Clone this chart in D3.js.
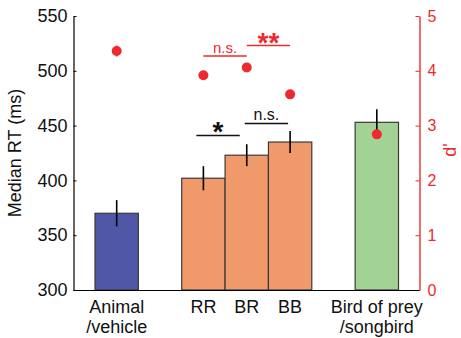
<!DOCTYPE html>
<html>
<head>
<meta charset="utf-8">
<script src="https://cdn.jsdelivr.net/npm/d3@7"></script>
<style>
  body { margin: 0; background: #fff; }
  text { font-family: "Liberation Sans", Arial, sans-serif; }
</style>
</head>
<body>
<div id="container"></div>
<script>
let w = 461;
let h = 338;

// data
let slots = ["Animal", "gap1", "RR", "BR", "BB", "gap2", "Bird"];
let categories = ["Animal", "RR", "BR", "BB", "Bird"];
let rtValues = [370, 402, 423, 435, 453];
let rtErrors = [12, 11, 10, 10, 12];
let dprime = [4.36, 3.92, 4.06, 3.57, 2.84];
let dprimeErr = [0.1, 0.06, 0.06, 0.06, 0.08];
let barColors = ["#5057a7", "#f0996b", "#f0996b", "#f0996b", "#a2d394"];
let xLabels = [["Animal", "/vehicle"], ["RR"], ["BR"], ["BB"], ["Bird of prey", "/songbird"]];
let leftTicks = [300, 350, 400, 450, 500, 550];
let rightTicks = [0, 1, 2, 3, 4, 5];

// significance brackets: [from, to, label, axis, level]
let sigs = [
  ["RR", "BR", "*", "left", 441],
  ["BR", "BB", "n.s.", "left", 452],
  ["RR", "BR", "n.s.", "right", 4.27],
  ["BR", "BB", "**", "right", 4.46]
];

let red = "#ee2a2e";

let viz = d3.select("#container").append("svg")
    .attr("width", w)
    .attr("height", h)
    .style("display", "block");

let axisLeftX = 73.5;
let axisRightX = 419.5;
let plotTop = 16;
let plotBottom = 290;

let xScale = d3.scaleBand().domain(slots).range([95, 398.5]).padding(0);
let yLeft = d3.scaleLinear().domain([300, 550]).range([plotBottom, plotTop]);
let yRight = d3.scaleLinear().domain([0, 5]).range([plotBottom, plotTop]);

let cx = c => xScale(c) + xScale.bandwidth() / 2;

// bars
viz.append("g").selectAll("rect").data(categories).enter()
  .append("rect")
    .attr("x", d => xScale(d))
    .attr("y", (d, i) => yLeft(rtValues[i]))
    .attr("width", xScale.bandwidth())
    .attr("height", (d, i) => plotBottom - yLeft(rtValues[i]))
    .attr("fill", (d, i) => barColors[i])
    .attr("stroke", "#3a3a3a")
    .attr("stroke-width", 1.2);

// RT error bars
viz.append("g").selectAll("line").data(categories).enter()
  .append("line")
    .attr("x1", d => cx(d)).attr("x2", d => cx(d))
    .attr("y1", (d, i) => yLeft(rtValues[i] - rtErrors[i]))
    .attr("y2", (d, i) => yLeft(rtValues[i] + rtErrors[i]))
    .attr("stroke", "#000")
    .attr("stroke-width", 1.6);

// d' error bars and dots
viz.append("g").selectAll("line").data(categories).enter()
  .append("line")
    .attr("x1", d => cx(d)).attr("x2", d => cx(d))
    .attr("y1", (d, i) => yRight(dprime[i] - dprimeErr[i]))
    .attr("y2", (d, i) => yRight(dprime[i] + dprimeErr[i]))
    .attr("stroke", red)
    .attr("stroke-width", 1.6);

viz.append("g").selectAll("circle").data(categories).enter()
  .append("circle")
    .attr("cx", d => cx(d))
    .attr("cy", (d, i) => yRight(dprime[i]))
    .attr("r", 5)
    .attr("fill", red);

// left axis
let leftAxis = d3.axisLeft(yLeft).tickValues(leftTicks).tickSizeInner(-3).tickSizeOuter(0).tickPadding(6);
let leftG = viz.append("g").attr("transform", "translate(" + axisLeftX + ",0)").call(leftAxis);
leftG.select(".domain").attr("stroke", "#000").attr("stroke-width", 1.2);
leftG.selectAll("line").attr("stroke", "#000");
leftG.selectAll("text")
    .attr("font-size", 18)
    .attr("font-family", "Liberation Sans, Arial, sans-serif")
    .attr("fill", "#111");

// right axis
let rightAxis = d3.axisRight(yRight).tickValues(rightTicks).tickFormat(d3.format("d"))
    .tickSizeInner(-4).tickSizeOuter(0).tickPadding(8);
let rightG = viz.append("g").attr("transform", "translate(" + axisRightX + ",0)").call(rightAxis);
rightG.select(".domain").attr("stroke", red).attr("stroke-width", 1.4);
rightG.selectAll("line").attr("stroke", red);
rightG.selectAll("text")
    .attr("font-size", 16)
    .attr("font-family", "Liberation Sans, Arial, sans-serif")
    .attr("fill", red);

// bottom line
viz.append("line")
    .attr("x1", axisLeftX).attr("x2", axisRightX)
    .attr("y1", plotBottom + 0.5).attr("y2", plotBottom + 0.5)
    .attr("stroke", "#000")
    .attr("stroke-width", 1.2);

// x labels
let xl = viz.append("g").selectAll("text").data(categories).enter()
  .append("text")
    .attr("text-anchor", "middle")
    .attr("font-size", 18)
    .attr("fill", "#111")
    .attr("x", d => cx(d))
    .attr("y", 313);
xl.selectAll("tspan").data((d, i) => xLabels[i]).enter()
  .append("tspan")
    .attr("x", function(){ return d3.select(this.parentNode).attr("x"); })
    .attr("dy", (d, i) => i === 0 ? 0 : 20)
    .text(d => d);

// axis titles
viz.append("text")
    .attr("transform", "translate(21," + ((plotTop + plotBottom) / 2) + ") rotate(-90)")
    .attr("text-anchor", "middle")
    .attr("font-size", 18)
    .attr("fill", "#111")
    .text("Median RT (ms)");

viz.append("text")
    .attr("transform", "translate(456," + 150 + ") rotate(-90)")
    .attr("text-anchor", "middle")
    .attr("font-size", 18)
    .attr("fill", red)
    .text("d'");

// significance brackets
let sigG = viz.append("g");
sigs.forEach(function(s){
  let scale = s[3] === "left" ? yLeft : yRight;
  let col = s[3] === "left" ? "#111" : red;
  let shift = s[2] === "*" ? -7 : (s[3] === "left" ? -2 : 0);
  let x1 = cx(s[0]) + shift;
  let x2 = cx(s[1]) + shift;
  let y = scale(s[4]);
  sigG.append("line")
      .attr("x1", x1).attr("x2", x2)
      .attr("y1", y).attr("y2", y)
      .attr("stroke", col)
      .attr("stroke-width", 1.5);
  let isStar = s[2].indexOf("*") >= 0;
  sigG.append("text")
      .attr("x", (x1 + x2) / 2)
      .attr("y", isStar ? y + 6 : y - 3)
      .attr("text-anchor", "middle")
      .attr("font-size", isStar ? 28 : (s[3] === "left" ? 16 : 15))
      .attr("font-weight", isStar ? "bold" : "normal")
      .attr("fill", col)
      .text(s[2]);
});
</script>
</body>
</html>
